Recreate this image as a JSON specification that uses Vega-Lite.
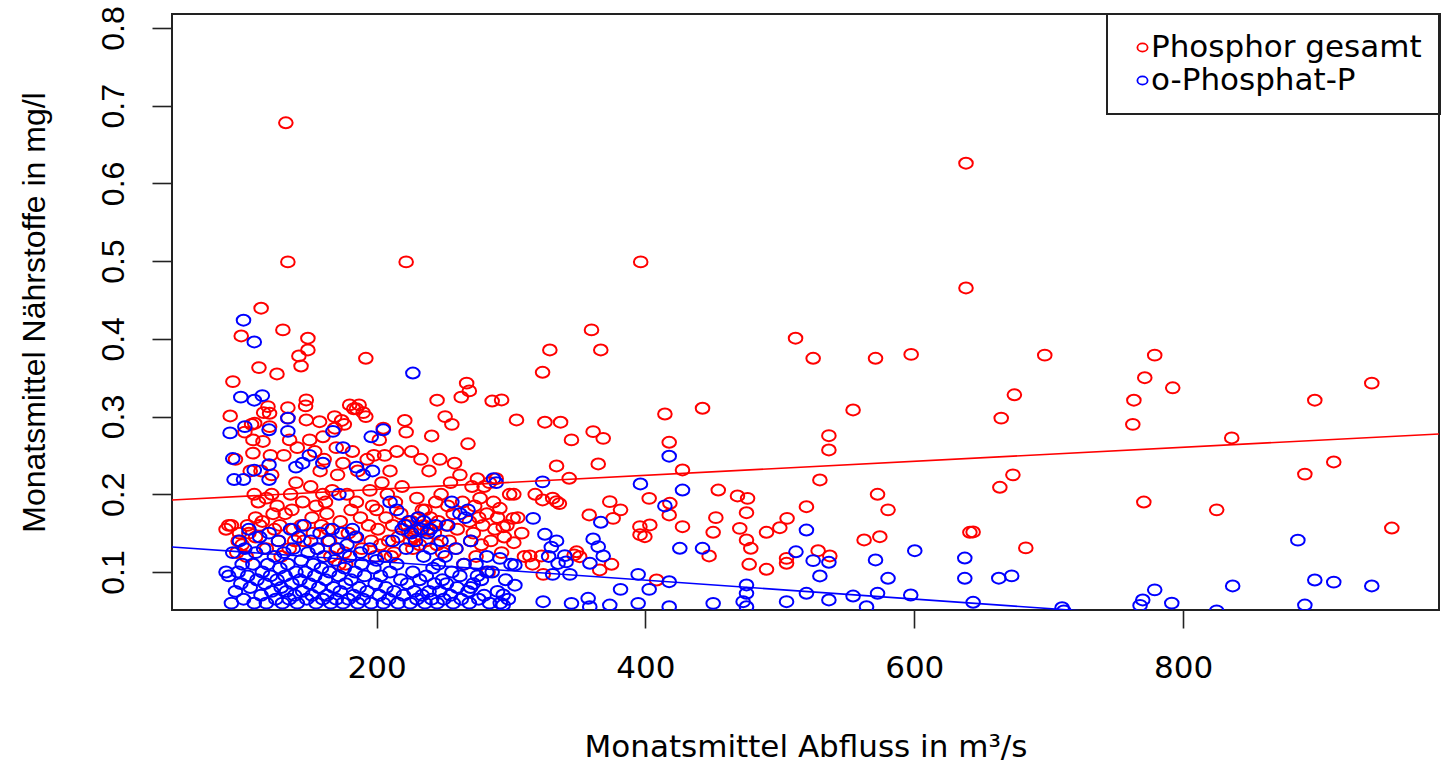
{
"$schema":"https://vega.github.io/schema/vega-lite/v6.json",
"width":1267,"height":596,
"autosize":"none",
"padding":{"left":172,"top":14,"right":3,"bottom":152},
"background":"white",
"config":{
 "view":{"stroke":"#222","strokeWidth":2},
 "legend":{"strokeWidth":2},
 "axis":{"grid":false,"domain":false,"tickColor":"#222","tickWidth":1.6,"labelColor":"black","titleColor":"black","titleFontWeight":"normal","labelFlush":false,"labelOverlap":false,"labelBound":false}
},
"datasets":{
"tp":[
{"q":132.5,"c":0.678},{"q":134,"c":0.499},{"q":222,"c":0.499},{"q":396.5,"c":0.499},{"q":638.5,"c":0.626},{"q":638.5,"c":0.4655},{"q":359.9,"c":0.4115},{"q":328.9,"c":0.3857},{"q":366.8,"c":0.3857},{"q":323.5,"c":0.357},{"q":511.7,"c":0.4008},{"q":524.8,"c":0.375},{"q":571.2,"c":0.375},{"q":597.7,"c":0.38},{"q":293,"c":0.3214},{"q":304.1,"c":0.2956},{"q":325.2,"c":0.2927},{"q":336.9,"c":0.2927},{"q":345,"c":0.27},{"q":361.1,"c":0.2806},{"q":368.6,"c":0.272},{"q":333.9,"c":0.2364},{"q":364.9,"c":0.239},{"q":343.3,"c":0.2206},{"q":414.5,"c":0.3033},{"q":442.5,"c":0.3107},{"q":417.7,"c":0.2669},{"q":427.6,"c":0.2313},{"q":554.5,"c":0.3085},{"q":536.5,"c":0.2754},{"q":536.5,"c":0.257},{"q":529.8,"c":0.2184},{"q":302.1,"c":0.2},{"q":323.5,"c":0.1927},{"q":333.9,"c":0.1905},{"q":331,"c":0.195},{"q":336,"c":0.188},{"q":291.7,"c":0.182},{"q":301.6,"c":0.169},{"q":294.2,"c":0.158},{"q":302.1,"c":0.1377},{"q":373.5,"c":0.1905},{"q":381.5,"c":0.18},{"q":358.2,"c":0.1734},{"q":376,"c":0.169},{"q":402.8,"c":0.1948},{"q":418.2,"c":0.1884},{"q":417.7,"c":0.1734},{"q":427.6,"c":0.1583},{"q":454.2,"c":0.2055},{"q":468.5,"c":0.1978},{"q":476,"c":0.1948},{"q":475.2,"c":0.1763},{"q":452.4,"c":0.1699},{"q":450.4,"c":0.1511},{"q":470.2,"c":0.1562},{"q":475.2,"c":0.1412},{"q":478.4,"c":0.1305},{"q":490.1,"c":0.1511},{"q":500,"c":0.157},{"q":505.4,"c":0.169},{"q":519.8,"c":0.184},{"q":477.2,"c":0.1099},{"q":490.1,"c":0.1035},{"q":505,"c":0.1176},{"q":505,"c":0.1112},{"q":528.5,"c":0.1274},{"q":537.2,"c":0.1206},{"q":572.7,"c":0.2},{"q":580.5,"c":0.18},{"q":562.7,"c":0.1412},{"q":574.4,"c":0.1454},{"q":641.4,"c":0.1511},{"q":447.4,"c":0.1206},{"q":395.9,"c":0.1583},{"q":399.6,"c":0.1454},{"q":396,"c":0.148},{"q":403.3,"c":0.1605},{"q":408.3,"c":0.0897},{"q":374.8,"c":0.1099},{"q":348.8,"c":0.126},{"q":351.1,"c":0.1197},{"q":347,"c":0.122},{"q":314,"c":0.1206},{"q":322.7,"c":0.1206},{"q":324,"c":0.097},{"q":366,"c":0.1026},{"q":664.7,"c":0.298},{"q":674.5,"c":0.328},{"q":697.1,"c":0.379},{"q":663.7,"c":0.209},{"q":673.4,"c":0.225},{"q":643.8,"c":0.1515},{"q":683,"c":0.131},{"q":763.4,"c":0.321},{"q":762.6,"c":0.29},{"q":771.5,"c":0.35},{"q":778.9,"c":0.379},{"q":792.3,"c":0.337},{"q":770.8,"c":0.19},{"q":825,"c":0.18},{"q":836.2,"c":0.2725},{"q":890.6,"c":0.226},{"q":898,"c":0.321},{"q":912.1,"c":0.2416},{"q":940.4,"c":0.343},{"q":955.3,"c":0.1566},
{"q":114.1,"c":0.4394},{"q":99.3,"c":0.4037},{"q":130.3,"c":0.4115},{"q":148.9,"c":0.4008},{"q":148.9,"c":0.3857},{"q":142.2,"c":0.378},{"q":143.8,"c":0.365},{"q":112.5,"c":0.363},{"q":125.9,"c":0.3548},{"q":93.1,"c":0.345},{"q":119.2,"c":0.3128},{"q":120.4,"c":0.3042},{"q":134,"c":0.3115},{"q":147.7,"c":0.3214},{"q":147.2,"c":0.3137},{"q":91.1,"c":0.3008},{"q":109.3,"c":0.2914},{"q":120.4,"c":0.287},{"q":147.7,"c":0.2956},{"q":157.6,"c":0.2934},{"q":168.8,"c":0.2999},{"q":108,"c":0.27},{"q":115.5,"c":0.268},{"q":135.3,"c":0.27},{"q":150.2,"c":0.27},{"q":160.1,"c":0.274},{"q":192,"c":0.375},{"q":245,"c":0.321},{"q":267,"c":0.343},{"q":269,"c":0.333},{"q":286,"c":0.32},
{"q":88,"c":0.155},{"q":92,"c":0.16},{"q":95,"c":0.245},{"q":98,"c":0.15},{"q":96,"c":0.125},{"q":90,"c":0.16},{"q":97,"c":0.14},{"q":100,"c":0.135},
{"q":102,"c":0.28},{"q":104,"c":0.16},{"q":105,"c":0.15},{"q":107,"c":0.29},{"q":108,"c":0.253},{"q":110,"c":0.17},{"q":110,"c":0.145},{"q":112,"c":0.19},{"q":113,"c":0.16},{"q":114,"c":0.23},{"q":115,"c":0.165},{"q":103,"c":0.12},{"q":106,"c":0.23},{"q":109,"c":0.2},
{"q":116,"c":0.305},{"q":118,"c":0.195},{"q":121,"c":0.25},{"q":122,"c":0.2},{"q":123,"c":0.175},{"q":124,"c":0.155},{"q":126,"c":0.185},{"q":127,"c":0.14},{"q":128,"c":0.16},{"q":118,"c":0.13},{"q":122,"c":0.225},{"q":129,"c":0.12},
{"q":131,"c":0.25},{"q":134,"c":0.298},{"q":136,"c":0.2},{"q":137,"c":0.18},{"q":138,"c":0.155},{"q":139,"c":0.14},{"q":140,"c":0.215},{"q":141,"c":0.26},{"q":144,"c":0.16},{"q":145,"c":0.19},{"q":132,"c":0.175},{"q":135,"c":0.13},
{"q":151,"c":0.21},{"q":152,"c":0.17},{"q":153,"c":0.15},{"q":154,"c":0.255},{"q":155,"c":0.185},{"q":156,"c":0.13},{"q":158,"c":0.23},{"q":159,"c":0.16},{"q":146,"c":0.14},{"q":160,"c":0.2},
{"q":161,"c":0.245},{"q":162,"c":0.19},{"q":163,"c":0.175},{"q":164,"c":0.155},{"q":165,"c":0.14},{"q":166,"c":0.12},{"q":169,"c":0.285},{"q":170,"c":0.26},{"q":171,"c":0.225},{"q":172,"c":0.11},{"q":173,"c":0.165},{"q":174,"c":0.295},{"q":175,"c":0.24},{"q":167,"c":0.205},{"q":170,"c":0.13},
{"q":176,"c":0.29},{"q":177,"c":0.11},{"q":178,"c":0.2},{"q":179,"c":0.15},{"q":180,"c":0.315},{"q":181,"c":0.18},{"q":182,"c":0.255},{"q":183,"c":0.31},{"q":184,"c":0.145},{"q":185,"c":0.31},{"q":186,"c":0.23},{"q":187,"c":0.315},{"q":188,"c":0.17},{"q":189,"c":0.13},{"q":190,"c":0.305},{"q":176,"c":0.125},{"q":185,"c":0.19},
{"q":192,"c":0.3},{"q":193,"c":0.245},{"q":194,"c":0.16},{"q":195,"c":0.205},{"q":196,"c":0.14},{"q":197,"c":0.185},{"q":198,"c":0.25},{"q":199,"c":0.12},{"q":200,"c":0.18},{"q":201,"c":0.155},{"q":202,"c":0.27},{"q":203,"c":0.135},{"q":204,"c":0.215},{"q":205,"c":0.285},
{"q":206,"c":0.25},{"q":207,"c":0.17},{"q":208,"c":0.2},{"q":209,"c":0.14},{"q":210,"c":0.23},{"q":212,"c":0.16},{"q":213,"c":0.125},{"q":214,"c":0.19},{"q":215,"c":0.255},{"q":216,"c":0.145},{"q":218,"c":0.175},{"q":219,"c":0.21},{"q":211,"c":0.12},
{"q":221,"c":0.295},{"q":222,"c":0.28},{"q":223,"c":0.16},{"q":224,"c":0.15},{"q":225,"c":0.14},{"q":226,"c":0.165},{"q":226,"c":0.255},{"q":227,"c":0.13},{"q":228,"c":0.145},{"q":229,"c":0.155},{"q":230,"c":0.195},{"q":231,"c":0.17},{"q":232,"c":0.135},{"q":233,"c":0.245},{"q":234,"c":0.18},{"q":235,"c":0.16},
{"q":236,"c":0.18},{"q":237,"c":0.14},{"q":238,"c":0.155},{"q":239,"c":0.23},{"q":240,"c":0.17},{"q":241,"c":0.275},{"q":243,"c":0.15},{"q":244,"c":0.19},{"q":245,"c":0.135},{"q":246,"c":0.165},{"q":247,"c":0.245},{"q":248,"c":0.2},{"q":249,"c":0.125},
{"q":251,"c":0.3},{"q":252,"c":0.16},{"q":253,"c":0.185},{"q":254,"c":0.14},{"q":255,"c":0.215},{"q":256,"c":0.29},{"q":257,"c":0.175},{"q":258,"c":0.24},{"q":259,"c":0.13},{"q":260,"c":0.155},{"q":262,"c":0.225},{"q":263,"c":0.325},{"q":264,"c":0.19},{"q":265,"c":0.11},
{"q":268,"c":0.265},{"q":269,"c":0.165},{"q":270,"c":0.14},{"q":271,"c":0.21},{"q":272,"c":0.15},{"q":273,"c":0.185},{"q":274,"c":0.12},{"q":275,"c":0.22},{"q":276,"c":0.17},{"q":277,"c":0.195},{"q":278,"c":0.135},{"q":279,"c":0.16},{"q":280,"c":0.21},
{"q":282,"c":0.175},{"q":283,"c":0.1},{"q":284,"c":0.215},{"q":285,"c":0.14},{"q":287,"c":0.19},{"q":288,"c":0.155},{"q":289,"c":0.22},{"q":290,"c":0.17},{"q":293,"c":0.125},{"q":295,"c":0.145},{"q":297,"c":0.16},{"q":299,"c":0.2},{"q":305,"c":0.17},{"q":308,"c":0.15},{"q":310,"c":0.12},{"q":316,"c":0.11},{"q":318,"c":0.2}
],
"op":[
{"q":417.7,"c":0.249},{"q":323.5,"c":0.216},{"q":396.3,"c":0.2133},{"q":427.6,"c":0.2055},{"q":414.5,"c":0.185},{"q":316.5,"c":0.169},{"q":366.8,"c":0.164},{"q":325.2,"c":0.1485},{"q":333.9,"c":0.14},{"q":330,"c":0.132},{"q":328,"c":0.12},{"q":340,"c":0.121},{"q":335,"c":0.111},{"q":341,"c":0.113},{"q":331,"c":0.097},{"q":361.1,"c":0.1425},{"q":364.9,"c":0.1326},{"q":368.6,"c":0.1206},{"q":358.7,"c":0.1112},{"q":343.8,"c":0.097},{"q":302.9,"c":0.109},{"q":302.9,"c":0.083},{"q":291.7,"c":0.1176},{"q":294.2,"c":0.0704},{"q":294.2,"c":0.0575},{"q":323.9,"c":0.0618},{"q":345,"c":0.0597},{"q":357.4,"c":0.0662},{"q":358.6,"c":0.0553},{"q":373.5,"c":0.0575},{"q":394.6,"c":0.097},{"q":394.6,"c":0.0597},{"q":381.5,"c":0.0777},{"q":402.8,"c":0.0777},{"q":417.7,"c":0.0875},{"q":417.7,"c":0.0553},{"q":425.6,"c":0.1305},{"q":442.5,"c":0.1305},{"q":450.4,"c":0.0597},{"q":475.2,"c":0.0833},{"q":475.2,"c":0.0726},{"q":472.7,"c":0.0618},{"q":475.2,"c":0.0553},{"q":519.8,"c":0.154},{"q":512,"c":0.126},{"q":524.8,"c":0.1146},{"q":529.8,"c":0.0949},{"q":536.5,"c":0.1125},{"q":505,"c":0.0618},{"q":519.8,"c":0.0726},{"q":536.5,"c":0.064},{"q":554.5,"c":0.0691},{"q":571.2,"c":0.1155},{"q":580.5,"c":0.0919},{"q":572.7,"c":0.0726},{"q":600.4,"c":0.1274},{"q":597.4,"c":0.0704},{"q":637.6,"c":0.118},{"q":637.6,"c":0.0919},{"q":564.5,"c":0.0553},{"q":643.8,"c":0.061},{"q":662.9,"c":0.092},{"q":672.5,"c":0.095},{"q":710,"c":0.054},{"q":768,"c":0.057},{"q":770,"c":0.064},{"q":778.9,"c":0.077},{"q":791.6,"c":0.06},{"q":825,"c":0.05},{"q":836.9,"c":0.082},{"q":885.4,"c":0.141},{"q":890.6,"c":0.0575},{"q":898,"c":0.0897},{"q":912.1,"c":0.087},{"q":940.4,"c":0.082},{"q":711.3,"c":0.05},
{"q":101,"c":0.424},{"q":109,"c":0.396},{"q":99,"c":0.325},{"q":109,"c":0.321},{"q":115,"c":0.327},{"q":91,"c":0.279},{"q":102,"c":0.287},{"q":120,"c":0.283},{"q":134,"c":0.298},{"q":134,"c":0.281},{"q":167.5,"c":0.281},{"q":93,"c":0.246},{"q":94,"c":0.219},{"q":101,"c":0.219},{"q":109,"c":0.231},{"q":120,"c":0.238},{"q":120,"c":0.219},{"q":227,"c":0.356},{"q":205,"c":0.283},{"q":196,"c":0.274},{"q":140,"c":0.235},{"q":145,"c":0.24},{"q":150,"c":0.25},{"q":160,"c":0.24},{"q":172,"c":0.2},{"q":175,"c":0.26},{"q":185,"c":0.235},{"q":190,"c":0.225},{"q":197,"c":0.23},{"q":210,"c":0.19},{"q":215,"c":0.18},{"q":235,"c":0.165},{"q":240,"c":0.155},{"q":256,"c":0.19},{"q":262,"c":0.175},{"q":268,"c":0.18},{"q":287,"c":0.22},{"q":289,"c":0.215},{"q":300,"c":0.11},{"q":282,"c":0.1},{"q":275,"c":0.095},{"q":270,"c":0.08},
{"q":88,"c":0.1},{"q":90,"c":0.095},{"q":92,"c":0.06},{"q":93,"c":0.125},{"q":95,"c":0.075},{"q":97,"c":0.1},{"q":98,"c":0.14},{"q":99,"c":0.085},{"q":100,"c":0.11},
{"q":101,"c":0.065},{"q":102,"c":0.13},{"q":104,"c":0.095},{"q":105,"c":0.155},{"q":106,"c":0.08},{"q":108,"c":0.11},{"q":109,"c":0.06},{"q":110,"c":0.125},{"q":111,"c":0.09},{"q":113,"c":0.145},{"q":114,"c":0.07},{"q":115,"c":0.1},
{"q":116,"c":0.13},{"q":117,"c":0.085},{"q":118,"c":0.06},{"q":119,"c":0.11},{"q":120,"c":0.15},{"q":121,"c":0.095},{"q":122,"c":0.075},{"q":124,"c":0.12},{"q":125,"c":0.065},{"q":126,"c":0.09},{"q":127,"c":0.14},{"q":128,"c":0.105},{"q":129,"c":0.08},
{"q":130,"c":0.06},{"q":131,"c":0.125},{"q":132,"c":0.095},{"q":133,"c":0.075},{"q":134,"c":0.11},{"q":135,"c":0.065},{"q":136,"c":0.155},{"q":137,"c":0.085},{"q":138,"c":0.13},{"q":139,"c":0.07},{"q":140,"c":0.1},{"q":141,"c":0.06},{"q":142,"c":0.145},{"q":143,"c":0.09},{"q":144,"c":0.115},{"q":145,"c":0.075},
{"q":146,"c":0.16},{"q":147,"c":0.1},{"q":148,"c":0.065},{"q":149,"c":0.125},{"q":150,"c":0.085},{"q":151,"c":0.14},{"q":152,"c":0.07},{"q":153,"c":0.11},{"q":154,"c":0.095},{"q":155,"c":0.06},{"q":156,"c":0.13},{"q":157,"c":0.08},{"q":158,"c":0.15},{"q":159,"c":0.105},{"q":160,"c":0.065},
{"q":161,"c":0.12},{"q":162,"c":0.09},{"q":163,"c":0.07},{"q":164,"c":0.14},{"q":165,"c":0.1},{"q":166,"c":0.06},{"q":167,"c":0.155},{"q":168,"c":0.08},{"q":169,"c":0.115},{"q":170,"c":0.065},{"q":171,"c":0.13},{"q":172,"c":0.095},{"q":173,"c":0.075},{"q":174,"c":0.15},{"q":175,"c":0.06},
{"q":176,"c":0.105},{"q":177,"c":0.085},{"q":178,"c":0.135},{"q":179,"c":0.065},{"q":180,"c":0.12},{"q":181,"c":0.09},{"q":182,"c":0.155},{"q":183,"c":0.07},{"q":184,"c":0.1},{"q":185,"c":0.145},{"q":186,"c":0.06},{"q":187,"c":0.08},{"q":188,"c":0.125},{"q":189,"c":0.11},{"q":190,"c":0.065},
{"q":191,"c":0.095},{"q":193,"c":0.075},{"q":195,"c":0.13},{"q":196,"c":0.06},{"q":198,"c":0.105},{"q":199,"c":0.085},{"q":200,"c":0.115},{"q":202,"c":0.07},{"q":203,"c":0.095},{"q":205,"c":0.06},
{"q":206,"c":0.12},{"q":207,"c":0.08},{"q":209,"c":0.065},{"q":210,"c":0.1},{"q":212,"c":0.14},{"q":213,"c":0.075},{"q":215,"c":0.11},{"q":216,"c":0.06},{"q":218,"c":0.09},{"q":219,"c":0.155},{"q":220,"c":0.07},
{"q":221,"c":0.16},{"q":222,"c":0.13},{"q":223,"c":0.085},{"q":224,"c":0.165},{"q":225,"c":0.06},{"q":226,"c":0.15},{"q":227,"c":0.1},{"q":228,"c":0.075},{"q":229,"c":0.14},{"q":230,"c":0.065},{"q":231,"c":0.17},{"q":232,"c":0.09},{"q":233,"c":0.155},{"q":234,"c":0.07},{"q":235,"c":0.12},
{"q":236,"c":0.06},{"q":237,"c":0.095},{"q":238,"c":0.15},{"q":239,"c":0.075},{"q":240,"c":0.13},{"q":241,"c":0.065},{"q":242,"c":0.105},{"q":243,"c":0.085},{"q":244,"c":0.16},{"q":245,"c":0.06},{"q":246,"c":0.11},{"q":247,"c":0.075},{"q":248,"c":0.14},{"q":249,"c":0.09},{"q":250,"c":0.065},
{"q":251,"c":0.12},{"q":252,"c":0.085},{"q":253,"c":0.16},{"q":255,"c":0.07},{"q":256,"c":0.1},{"q":257,"c":0.06},{"q":259,"c":0.13},{"q":260,"c":0.08},{"q":262,"c":0.095},{"q":263,"c":0.065},{"q":265,"c":0.11},{"q":266,"c":0.17},{"q":268,"c":0.075},{"q":269,"c":0.06},{"q":270,"c":0.14},
{"q":272,"c":0.085},{"q":274,"c":0.11},{"q":276,"c":0.065},{"q":278,"c":0.09},{"q":280,"c":0.07},{"q":282,"c":0.12},{"q":284,"c":0.06},{"q":286,"c":0.1},{"q":290,"c":0.075},{"q":292,"c":0.06},{"q":296,"c":0.09},{"q":298,"c":0.065}
],
"lt":[{"q":47.8,"c":0.1927},{"q":990.4,"c":0.2776}],
"lo":[{"q":47.8,"c":0.1322},{"q":990.4,"c":0.0177}]
},
"encoding":{
 "x":{"field":"q","type":"quantitative","scale":{"domain":[47.8,990.4],"nice":false,"zero":false},
  "axis":{"values":[200,400,600,800],"tickSize":18,"labelFont":"DejaVu Sans","labelFontSize":31,"labelBaseline":"alphabetic","labelPadding":49,"title":"Monatsmittel Abfluss in m³/s","titleFont":"DejaVu Sans","titleFontSize":31,"titleX":633.5,"titleY":146,"titleAlign":"center","titleBaseline":"alphabetic"}},
 "y":{"field":"c","type":"quantitative","scale":{"domain":[0.0511,0.818],"nice":false,"zero":false},
  "axis":{"values":[0.1,0.2,0.3,0.4,0.5,0.6,0.7,0.8],"format":".1f","tickSize":20,"labelAngle":-90,"labelAlign":"center","labelBaseline":"alphabetic","labelPadding":29,"labelFont":"Liberation Sans","labelFontSize":32,"title":"Monatsmittel Nährstoffe in mg/l","titleFont":"Liberation Sans","titleFontSize":32,"titleAngle":-90,"titleX":-128,"titleY":298,"titleAlign":"center","titleBaseline":"alphabetic"}}
},
"layer":[
 {"data":{"name":"tp"},
  "mark":{"type":"point","shape":"M-1,0A1,0.8,0,1,1,1,0A1,0.8,0,1,1,-1,0Z","size":185,"filled":false,"strokeWidth":2,"opacity":1,"clip":true},
  "encoding":{"color":{"datum":"Phosphor gesamt","type":"nominal","scale":{"domain":["Phosphor gesamt","o-Phosphat-P"],"range":["#ff0000","#0000ff"]},
   "legend":{"orient":"none","legendX":935,"legendY":0,"title":null,"padding":18,"strokeColor":"#222","labelFont":"DejaVu Sans","labelFontSize":31,"labelColor":"black","labelOffset":-7,"symbolOffset":2,"symbolType":"M-1,0A1,0.8,0,1,1,1,0A1,0.8,0,1,1,-1,0Z","symbolSize":104,"symbolStrokeWidth":1.8,"rowPadding":1,"labelLimit":0}}}},
 {"data":{"name":"op"},
  "mark":{"type":"point","shape":"M-1,0A1,0.8,0,1,1,1,0A1,0.8,0,1,1,-1,0Z","size":185,"filled":false,"strokeWidth":2,"opacity":1,"clip":true},
  "encoding":{"color":{"datum":"o-Phosphat-P","type":"nominal"}}},
 {"data":{"name":"lt"},"mark":{"type":"line","color":"#ff0000","strokeWidth":1.6,"clip":true},"encoding":{}},
 {"data":{"name":"lo"},"mark":{"type":"line","color":"#0000ff","strokeWidth":1.6,"clip":true},"encoding":{}}
]
}
